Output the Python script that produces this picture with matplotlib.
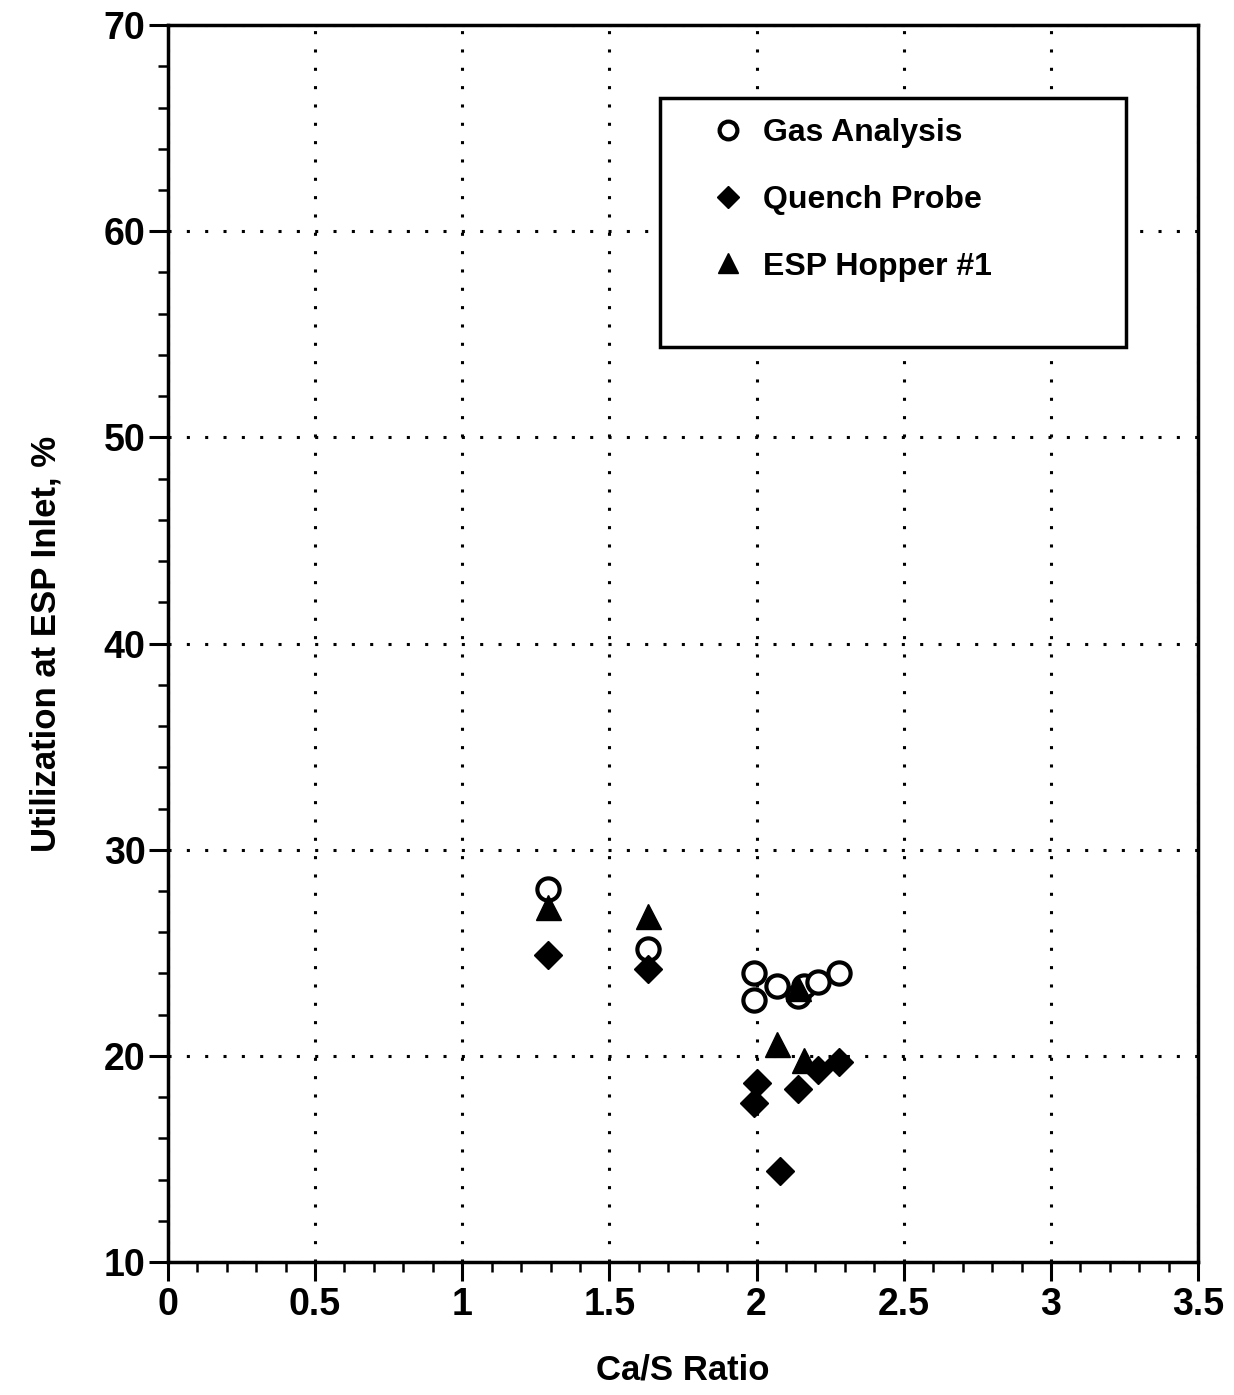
import matplotlib.pyplot as plt
from matplotlib.patches import Rectangle
from matplotlib.ticker import MultipleLocator, FuncFormatter

plt.rcParams['font.family'] = ['Liberation Sans', 'DejaVu Sans']

# Gas analysis (open circles)
gas_x = [1.29, 1.63, 1.99, 1.99, 2.07, 2.14, 2.16, 2.21, 2.28]
gas_y = [28.1, 25.2, 24.0, 22.7, 23.4, 22.9, 23.4, 23.6, 24.0]

# Quench probe (diamonds)
quench_x = [1.29, 1.63, 2.0, 1.99, 2.08, 2.14, 2.21, 2.28]
quench_y = [24.9, 24.2, 18.7, 17.7, 14.4, 18.4, 19.3, 19.7]

# ESP hopper #1 (triangles)
esp_x = [1.29, 1.63, 2.07, 2.16, 2.14]
esp_y = [27.2, 26.8, 20.6, 19.8, 23.3]

fig = plt.figure(figsize=(12.34, 13.95), dpi=100)
ax = fig.add_axes([0.136, 0.0953, 0.835, 0.8867])

ax.plot(gas_x, gas_y, linestyle='none', marker='o', markersize=16,
        markerfacecolor='white', markeredgecolor='black', markeredgewidth=3,
        label='Gas Analysis', zorder=3)
ax.plot(quench_x, quench_y, linestyle='none', marker='D', markersize=14,
        color='black', label='Quench Probe', zorder=4)
ax.plot(esp_x, esp_y, linestyle='none', marker='^', markersize=18,
        color='black', label='ESP Hopper #1', zorder=4)

ax.set_xlim(0, 3.5)
ax.set_ylim(10, 70)
ax.xaxis.set_major_locator(MultipleLocator(0.5))
ax.xaxis.set_minor_locator(MultipleLocator(0.1))
ax.yaxis.set_major_locator(MultipleLocator(10))
ax.yaxis.set_minor_locator(MultipleLocator(2))
ax.xaxis.set_major_formatter(FuncFormatter(lambda v, p: '%g' % v))

ax.tick_params(which='major', direction='out', length=14, width=2.2,
               labelsize=27, pad=4)
ax.tick_params(which='minor', direction='out', length=7, width=1.8)
ax.tick_params(axis='y', which='major', pad=2)
for lab in ax.get_xticklabels() + ax.get_yticklabels():
    lab.set_fontweight('bold')

for s in ax.spines.values():
    s.set_linewidth(2.5)

ax.grid(True, which='major', color='black', linestyle=(0, (1, 5)),
        linewidth=2.2)

ax.set_xlabel('Ca/S Ratio', fontsize=25, fontweight='bold', labelpad=22)
ax.set_ylabel('Utilization at ESP Inlet, %', fontsize=25, fontweight='bold',
              labelpad=30)

# legend box
ax.add_patch(Rectangle((0.478, 0.740), 0.452, 0.201, transform=ax.transAxes,
                       facecolor='white', edgecolor='black', linewidth=2.5,
                       zorder=5))
leg = ax.legend(loc='upper left', bbox_to_anchor=(0.5, 0.948), frameon=False,
                prop={'size': 23, 'weight': 'bold'}, labelspacing=1.15,
                handletextpad=0.6, handlelength=1.0, markerscale=0.8)
leg.set_zorder(6)

fig.savefig('out.png', dpi=100)
